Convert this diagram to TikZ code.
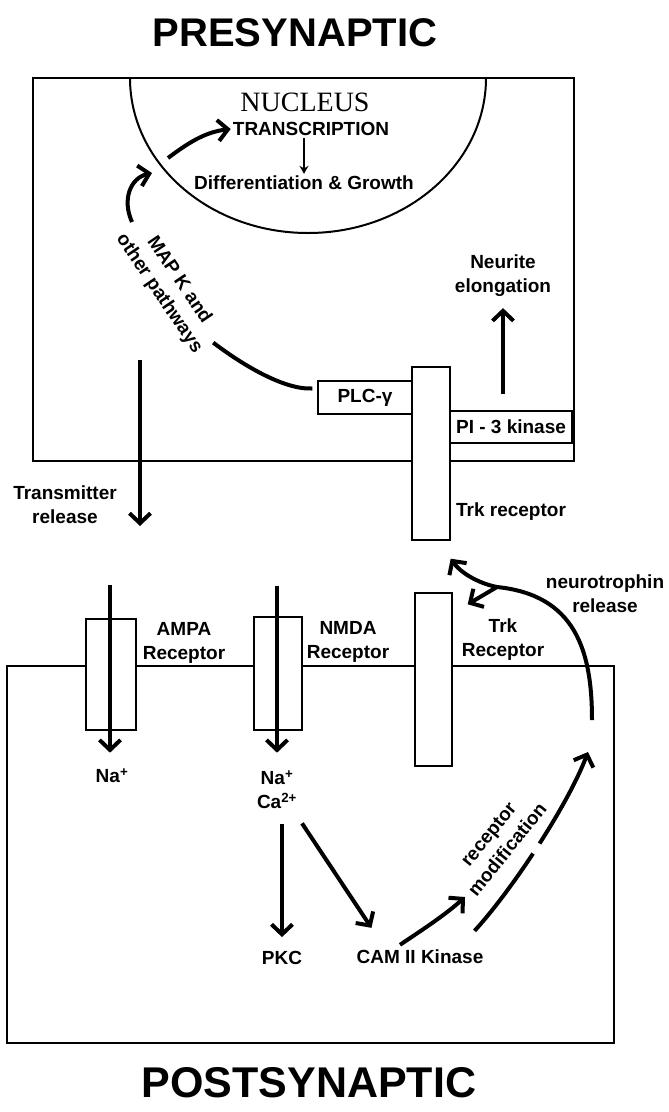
\documentclass[tikz,border=0pt]{standalone}
\usepackage{fontspec}
\setmainfont{Liberation Sans}
\newfontfamily\nucfont{Liberation Serif}
\usetikzlibrary{positioning,calc,arrows.meta}

\begin{document}
\begin{tikzpicture}[x=1pt, y=-1pt,
  cell/.style={draw, line width=1.4pt, fill=white, inner sep=0pt,
               font=\fontsize{19}{24}\selectfont\bfseries},
  lbl/.style={font=\fontsize{19}{24}\selectfont\bfseries, align=center, inner sep=2pt},
  title/.style={font=\fontsize{40}{48}\selectfont\bfseries},
  fat/.style={line width=4pt, -{Straight Barb[length=10pt,width=21pt]}},
  fatline/.style={line width=4pt},
  slim/.style={line width=1.6pt, -{Stealth[length=8pt,width=9pt]}}
]
  \useasboundingbox (0,0) rectangle (669,1112);

  % Titles
  \node[title] (pretitle) at (295,33) {PRESYNAPTIC};
  \node[title, font=\fontsize{43}{50}\selectfont\bfseries] (posttitle) at (309,1083) {POSTSYNAPTIC};

  % Presynaptic terminal and nucleus
  \node[cell, minimum width=541pt, minimum height=383pt] (pre) at (303.5,269.5) {};
  \coordinate (nucL) at (130,78);
  \draw[line width=2pt] (nucL) arc[start angle=180, end angle=0, x radius=178, y radius=155];
  \node[font=\nucfont\fontsize{28}{30}\selectfont] (nucleus) at (305,102) {NUCLEUS};
  \node[lbl] (transcr) at (311,129) {TRANSCRIPTION};
  \node[lbl] (diff) at (304,183) {Differentiation \& Growth};
  \node[lbl] (neurite) at (503,276) {Neurite\\elongation};
  \node[lbl, rotate=-56] (mapk) at (169,287) {MAP K and\\other pathways};

  % Postsynaptic cell
  \node[cell, minimum width=607pt, minimum height=377pt] (post) at (310.5,854.5) {};

  % Receptors
  \node[cell, minimum width=94pt, minimum height=33pt] (plc) at (365,397.5) {PLC-γ};
  \node[cell, minimum width=38pt, minimum height=173pt] (trkup) at (431,453.5) {};
  \node[cell, minimum width=122pt, minimum height=32pt] (pi3) at (511,427) {PI - 3 kinase};
  \node[cell, minimum width=50pt, minimum height=111pt] (ampa) at (111,674.5) {};
  \node[cell, minimum width=48pt, minimum height=113pt] (nmda) at (278,673.5) {};
  \node[cell, minimum width=37pt, minimum height=173pt] (trklo) at (433.5,679.5) {};

  % Labels
  \node[lbl] (txlbl) at (65,505) {Transmitter\\release};
  \node[lbl] (trkuplbl) at (511,512) {Trk receptor};
  \node[lbl] (ampalbl) at (184,643) {AMPA\\Receptor};
  \node[lbl] (nmdalbl) at (348,642) {NMDA\\Receptor};
  \node[lbl] (trklolbl) at (503,640) {Trk\\Receptor};
  \node[lbl] (ntlbl) at (605,594) {neurotrophin\\release};
  \node[lbl] (na) at (112,776) {Na\textsuperscript{+}};
  \node[lbl] (ions) at (277,790) {Na\textsuperscript{+}\\Ca\textsuperscript{2+}};
  \node[lbl] (pkc) at (282,958) {PKC};
  \node[lbl] (cam) at (420,957) {CAM II Kinase};
  \node[lbl, rotate=51] (recmod) at (498,842) {receptor\\modification};

  % Presynaptic signalling
  \draw[slim] (transcr.south -| diff.north) -- (diff.north);
  \coordinate (mapup) at (132,222);
  \coordinate (nucedge) at (152,173);
  \draw[fat] (mapup) .. controls (122,200) and (130,178) .. (nucedge);
  \coordinate (nucin) at (168,158);
  \draw[fat] (nucin) .. controls (188,143) and (205,132) .. (transcr.west);
  \draw[fatline] ([shift={(4pt,4pt)}]mapk.east) .. controls (240,363) and (283,390) .. ([xshift=-5pt,yshift=9pt]plc.west);
  \draw[fat, shorten <=16pt, shorten >=9pt] (neurite.south |- pi3.north) -- (neurite.south);

  % Transmitter release and ion flow
  \coordinate (txtop) at (140,360);
  \coordinate (txend) at (140,526);
  \draw[fat] (txtop) -- (txend);
  \draw[fat] ($(ampa.north)+(-1,-33)$) -- ($(ampa.south)+(-1,22)$);
  \draw[fat] ($(nmda.north)+(-1,-30)$) -- ($(nmda.south)+(-1,22)$);

  % Postsynaptic signalling
  \draw[fat, shorten <=13pt, shorten >=12pt] (ions.south -| pkc.north) -- (pkc.north);
  \draw[fat] ($(ions.south)+(25,12)$) -- ($(cam.north west)+(17,-20)$);
  \coordinate (recmodtip) at (465,897);
  \draw[fat] ($(cam.north)+(-20,-3)$) .. controls (425,928) and (445,915) .. (recmodtip);
  \coordinate (ntarc) at (588,752);
  \draw[fat, dash pattern=on 97pt off 12pt on 400pt]
    ($(cam.north east)+(-11,-17)$) .. controls (512,890) and (568,805) .. (ntarc);

  % Neurotrophin release
  \coordinate (ntfoot) at (592,720);
  \coordinate (ntfork) at (497,587);
  \draw[fatline] (ntfoot) .. controls (592,650) and (575,595) .. (ntfork);
  \draw[fat] (ntfork) .. controls (477,583) and (460,572) .. ($(trkup.south east)+(0,18)$);
  \draw[fat] (ntfork) -- ($(trklo.north east)+(15,12)$);
\end{tikzpicture}
\end{document}
